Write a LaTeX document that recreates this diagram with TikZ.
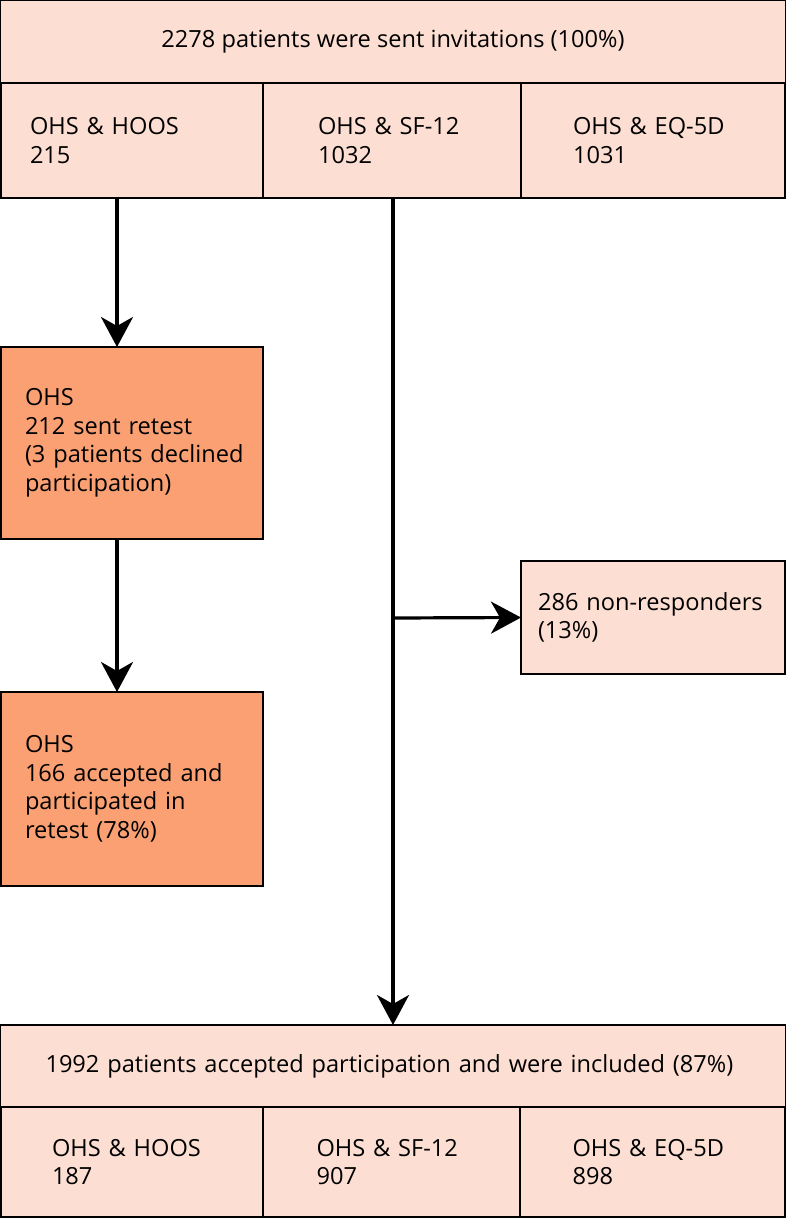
\documentclass[tikz,border=0pt]{standalone}
\usepackage{fontspec}
\setmainfont{Open Sans}
\usetikzlibrary{arrows.meta}
\definecolor{lightPeach}{RGB}{252,222,210}
\definecolor{darkPeach}{RGB}{250,160,115}

\begin{document}
\begin{tikzpicture}[x=1pt,y=-1pt,
    font=\fontsize{23.6}{28.5}\selectfont,
    box/.style={draw, line width=1.3pt, fill=lightPeach, inner sep=0pt, outer sep=0pt},
    retest/.style={box, fill=darkPeach},
    arr/.style={line width=3.2pt, -{Stealth[length=30pt,width=32pt,inset=9pt]}}]
            \useasboundingbox (0,0) rectangle (786,1218);

            % invitations
            \node[box, minimum width=785, minimum height=83] (sent) at (393,41.5)
                {2278 patients were sent invitations (100\%)};
            \node[box, minimum width=262, minimum height=115, align=left, text width=204] (sentHoos) at (132,140.5)
                {OHS \& HOOS\\215};
            \node[box, minimum width=258, minimum height=115, align=left, text width=148] (sentSf) at (392,140.5)
                {OHS \& SF-12\\1032};
            \node[box, minimum width=264, minimum height=115, align=left, text width=160] (sentEq) at (653,140.5)
                {OHS \& EQ-5D\\1031};

            % retest
            \node[retest, minimum width=262, minimum height=192, align=left, text width=214] (retestSent) at (132,443)
                {OHS\\212 sent retest\\\mbox{(3 patients declined}\\participation)};
            \node[retest, minimum width=262, minimum height=194, align=left, text width=214] (retestDone) at (132,789)
                {OHS\\166 accepted and\\participated in\\retest (78\%)};

            % non-responders
            \node[box, minimum width=264, minimum height=113, align=left, text width=230] (nonResp) at (653,617.5)
                {286 non-responders\\(13\%)};

            % included
            \node[box, minimum width=785, minimum height=82, align=left, text width=695] (incl) at (393,1066)
                {1992 patients accepted participation and were included (87\%)};
            \node[box, minimum width=262, minimum height=110, align=left, text width=160] (inclHoos) at (132,1162)
                {OHS \& HOOS\\187};
            \node[box, minimum width=257, minimum height=110, align=left, text width=150] (inclSf) at (391.5,1162)
                {OHS \& SF-12\\907};
            \node[box, minimum width=265, minimum height=110, align=left, text width=160] (inclEq) at (652.5,1162)
                {OHS \& EQ-5D\\898};

            % arrows
            \coordinate (leftCol) at (117,0);
            \coordinate (split) at (393,618);
            \draw[arr] (sentHoos.south -| leftCol) -- (retestSent.north -| leftCol);
            \draw[arr] (retestSent.south -| leftCol) -- (retestDone.north -| leftCol);
            \draw[line width=3.2pt] (sentSf.south -| split) -- (split);
            \draw[arr] (split) -- (incl.north -| split);
            \draw[arr] (split) -- (nonResp.west);

        \end{tikzpicture}
\end{document}
